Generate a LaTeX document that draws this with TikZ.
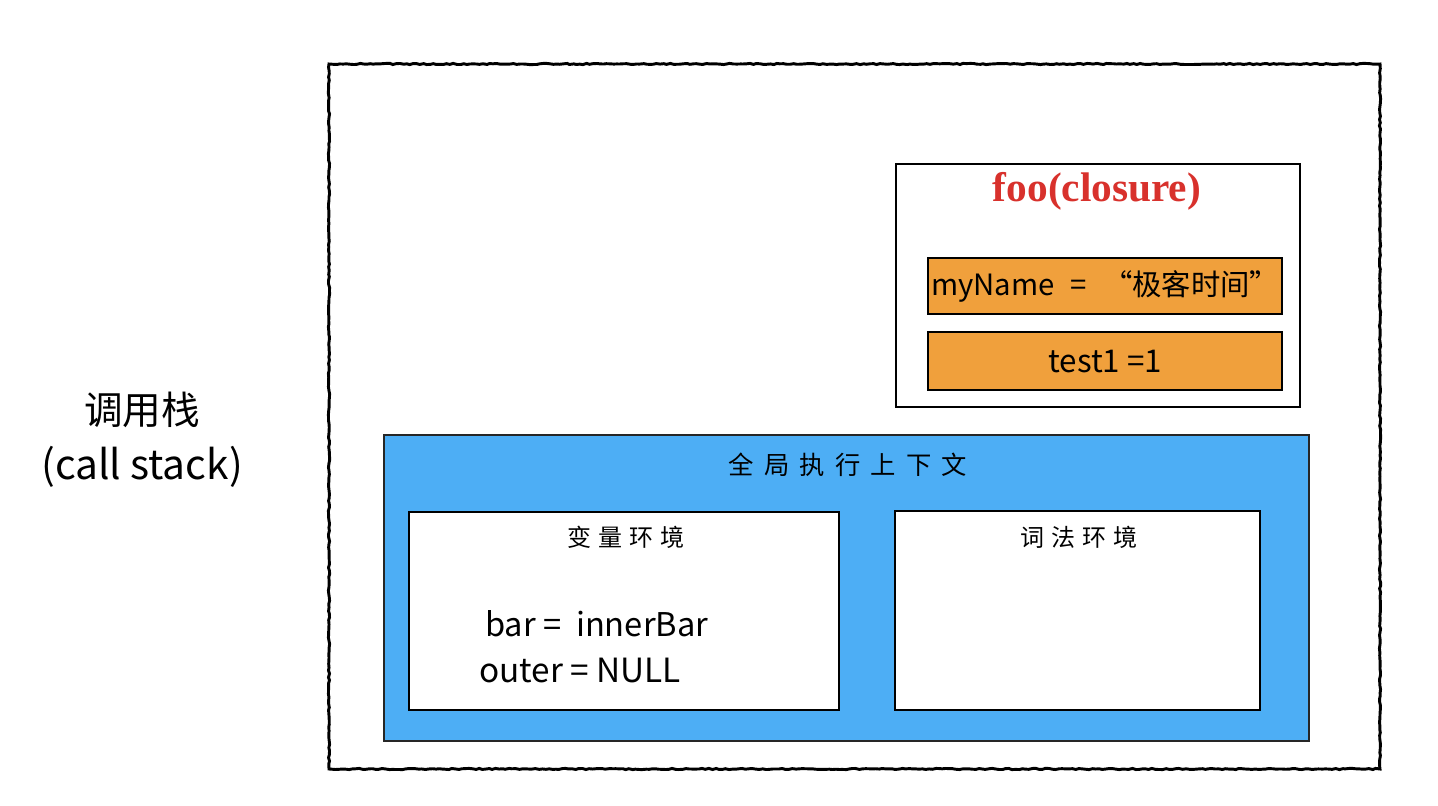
\documentclass[tikz,border=0pt]{standalone}
\usepackage{fontspec}
\setmainfont{Noto Sans CJK SC}
\newfontfamily\cjk{Noto Sans CJK SC}
\newfontfamily\cjkwide[LetterSpace=40]{Noto Sans CJK SC}
\newfontfamily\cjkmid[LetterSpace=28]{Noto Sans CJK SC}
\newfontfamily\titlefont{Liberation Serif}
\usetikzlibrary{decorations.pathmorphing}
\definecolor{orangefill}{HTML}{F0A03C}
\definecolor{bluefill}{HTML}{4DAEF5}
\definecolor{titlered}{HTML}{D8312C}
\tikzset{
  px/.style={x=0.75pt,y=-0.75pt},
  rough/.style={draw=black, line width=2.2pt, decorate,
    decoration={random steps, segment length=2.5pt, amplitude=0.45pt}},
  plainbox/.style={draw=black, line width=1.3pt, fill=white, inner sep=0pt, anchor=north west},
  varbox/.style={draw=black, line width=1.8pt, fill=orangefill, inner sep=0pt, anchor=north west},
  ctxbox/.style={draw=black!85, line width=1.6pt, fill=bluefill, inner sep=0pt, anchor=north west},
  envbox/.style={draw=black, line width=1.8pt, fill=white, inner sep=0pt, anchor=north west},
  lbl/.style={inner sep=0pt, text=black},
}
\begin{document}
\begin{tikzpicture}[px]
\useasboundingbox (0,0) rectangle (1438,806);
\fill[white] (0,0) rectangle (1438,806);
% outer call stack frame
\coordinate (o1) at (329,64);
\coordinate (o2) at (1380,769);
\draw[rough] (o1) rectangle (o2);
% left label
\node[lbl, font=\cjk\fontsize{29pt}{34pt}\selectfont] (stk) at (142,410) {调用栈};
\node[lbl, font=\cjk\fontsize{30.5pt}{34pt}\selectfont] (stken) at (142,467) {(call stack)};
% closure box
\node[plainbox, minimum width=404*0.75pt, minimum height=243*0.75pt] (foo) at (895,163) {};
\node[lbl, text=titlered, font=\titlefont\bfseries\fontsize{31pt}{34pt}\selectfont] (footitle) at (1097,191) {foo(closure)};
\node[varbox, minimum width=354*0.75pt, minimum height=56*0.75pt] (myname) at (927,257) {};
\node[lbl, font=\cjk\fontsize{22pt}{26pt}\selectfont] at (myname.center) {myName\hspace{12pt}=\hspace{12pt}“极客时间”};
\node[varbox, minimum width=354*0.75pt, minimum height=58*0.75pt] (test) at (927,331) {};
\node[lbl, font=\cjk\fontsize{23.5pt}{26pt}\selectfont] at (test.center) {test1 =1};
% global execution context
\node[ctxbox, minimum width=925*0.75pt, minimum height=306*0.75pt] (gctx) at (383,434) {};
\node[lbl, font=\cjkwide\fontsize{19pt}{22pt}\selectfont] (gtitle) at (848,465) {全局执行上下文};
\node[envbox, minimum width=430*0.75pt, minimum height=198*0.75pt] (venv) at (408,511) {};
\node[lbl, font=\cjkmid\fontsize{18pt}{20pt}\selectfont] (vtitle) at (626,537) {变量环境};
\node[lbl, anchor=base west, font=\cjk\fontsize{24.5pt}{28pt}\selectfont] (bar) at (485,636) {bar =\ \ innerBar};
\node[lbl, anchor=base west, font=\cjk\fontsize{25pt}{28pt}\selectfont] (outer) at (479,682) {outer = NULL};
\node[envbox, minimum width=365*0.75pt, minimum height=199*0.75pt] (lenv) at (894,510) {};
\node[lbl, font=\cjkmid\fontsize{18pt}{20pt}\selectfont] (ltitle) at (1079,537) {词法环境};
\end{tikzpicture}
\end{document}
